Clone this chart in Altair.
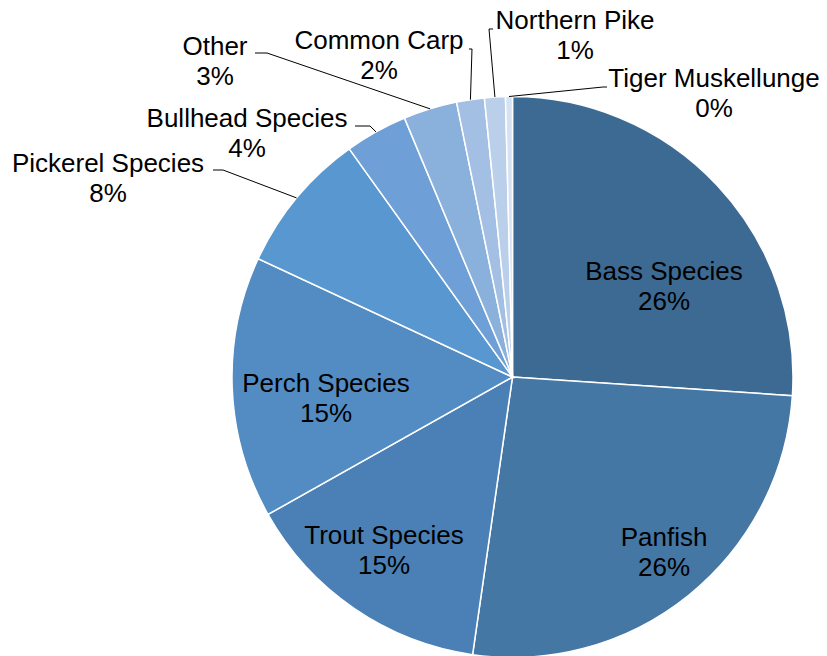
import altair as alt
import pandas as pd

# ---- data ----
categories = ["Bass Species", "Panfish", "Trout Species", "Perch Species",
              "Pickerel Species", "Bullhead Species", "Other", "Common Carp",
              "Northern Pike", "Tiger Muskellunge"]
values = [26.1, 26.25, 14.6, 15.1, 8.2, 3.6, 3.1, 1.6, 1.2, 0.4]
colors = ["#3D6A93", "#4577A5", "#4A80B5", "#528CC2", "#5897CF",
          "#6E9FD6", "#8AB0DC", "#A3BFE3", "#BACFEA", "#D6E1F2"]

# ---- layout (label anchors and leader elbows, in pixels) ----
CX, CY, R = 512.5, 377, 280.5
label_pos = {
    "Bass Species": (664, 280),
    "Panfish": (664, 546),
    "Trout Species": (384, 544),
    "Perch Species": (326, 392),
    "Pickerel Species": (108, 172),
    "Bullhead Species": (247, 127),
    "Other": (215, 55),
    "Common Carp": (379, 49),
    "Northern Pike": (575, 29),
    "Tiger Muskellunge": (714, 87),
}
leaders = {
    "Pickerel Species": (223, 170, 213),
    "Bullhead Species": (370, 126, 355),
    "Other": (267, 53, 255),
    "Common Carp": (472, 49, 469),
    "Northern Pike": (489, 29, 493),
    "Tiger Muskellunge": (603, 87, 607),
}

rows = []
for i, (c, v) in enumerate(zip(categories, values)):
    lx, ly = label_pos[c]
    el = leaders.get(c)
    rows.append({
        "category": c, "value": v, "order": i,
        "label_x": lx, "label_y": ly,
        "has_leader": el is not None,
        "elbow_x": el[0] if el else 0,
        "elbow_y": el[1] if el else 0,
        "end_x": el[2] if el else 0,
    })
df = pd.DataFrame(rows)

base = alt.Chart(df).transform_window(
    cum="sum(value)", sort=[alt.SortField("order")], frame=[None, 0]
).transform_joinaggregate(
    total="sum(value)"
).transform_calculate(
    mid=f"(datum.cum - datum.value/2) / datum.total * 2 * PI",
    pct="format(round(datum.value / datum.total * 100), 'd') + '%'",
).transform_calculate(
    ex=f"{CX} + {R} * sin(datum.mid)",
    ey=f"{CY} - {R} * cos(datum.mid)",
)

arcs = alt.Chart(df).mark_arc(outerRadius=R, stroke="white", strokeWidth=1.5).encode(
    theta=alt.Theta("value:Q", stack=True),
    color=alt.Color("category:N", scale=alt.Scale(domain=categories, range=colors), legend=None),
    order=alt.Order("order:Q"),
    x=alt.value(CX),
    y=alt.value(CY),
)

lead1 = base.transform_filter("datum.has_leader").mark_rule(color="#000000", strokeWidth=1).encode(
    x=alt.X("ex:Q", scale=None), y=alt.Y("ey:Q", scale=None),
    x2="elbow_x:Q", y2="elbow_y:Q",
)
lead2 = base.transform_filter("datum.has_leader").mark_rule(color="#000000", strokeWidth=1).encode(
    x=alt.X("elbow_x:Q", scale=None), y=alt.Y("elbow_y:Q", scale=None),
    x2="end_x:Q", y2="elbow_y:Q",
)

txt_kw = dict(font="Liberation Sans", fontSize=26, align="center", baseline="alphabetic", color="#000000")
names = base.mark_text(**txt_kw).encode(
    x=alt.X("label_x:Q", scale=None), y=alt.Y("label_y:Q", scale=None), text="category:N"
)
pcts = base.mark_text(dy=30, **txt_kw).encode(
    x=alt.X("label_x:Q", scale=None), y=alt.Y("label_y:Q", scale=None), text="pct:N"
)

chart = alt.layer(arcs, lead1, lead2, names, pcts).properties(
    width=827, height=656, autosize="none", padding=0,
    background="white",
).configure_view(strokeWidth=0)

chart.save("out.html", embed_options={"renderer": "svg", "actions": False})
